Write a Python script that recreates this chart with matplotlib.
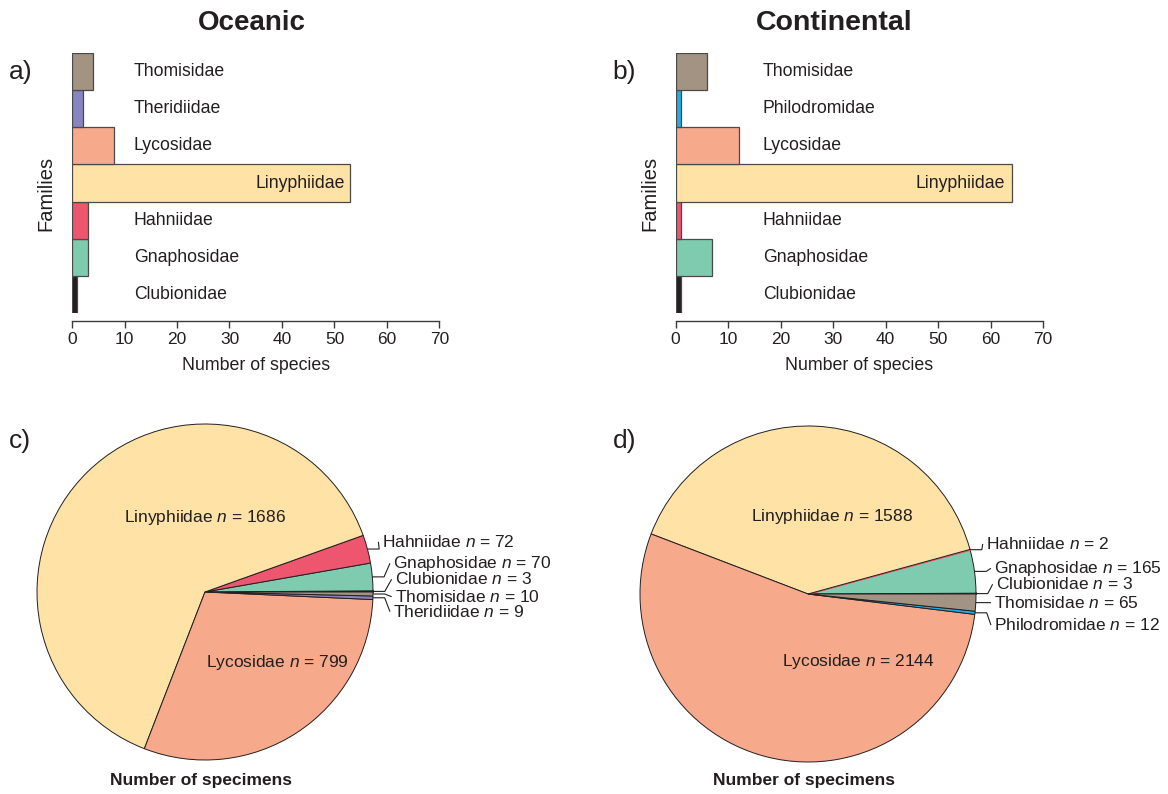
import matplotlib
matplotlib.use("Agg")
import numpy as np
import matplotlib.pyplot as plt

plt.rcParams['font.family'] = ['Liberation Sans', 'DejaVu Sans']
plt.rcParams['mathtext.fontset'] = 'custom'
plt.rcParams['mathtext.rm'] = 'Liberation Sans'
plt.rcParams['mathtext.it'] = 'Liberation Sans:italic'
plt.rcParams['text.color'] = '#231F20'

W, H = 1168, 794

# ---- data -------------------------------------------------------------
oceanic_families = ["Clubionidae", "Gnaphosidae", "Hahniidae", "Linyphiidae",
                    "Lycosidae", "Theridiidae", "Thomisidae"]
oceanic_species = [1, 3, 3, 53, 8, 2, 4]
oceanic_specimens = [3, 70, 72, 1686, 799, 9, 10]

continental_families = ["Clubionidae", "Gnaphosidae", "Hahniidae", "Linyphiidae",
                        "Lycosidae", "Philodromidae", "Thomisidae"]
continental_species = [1, 7, 1, 64, 12, 1, 6]
continental_specimens = [3, 165, 2, 1588, 2144, 12, 65]

species_ticks = [0, 10, 20, 30, 40, 50, 60, 70]

family_colors = {
    "Clubionidae": "#231F20",
    "Gnaphosidae": "#7ECBAF",
    "Hahniidae": "#EE5670",
    "Linyphiidae": "#FEE2A6",
    "Lycosidae": "#F7A98C",
    "Theridiidae": "#8884BF",
    "Philodromidae": "#27AAE1",
    "Thomisidae": "#A39382",
}

INK = '#231F20'


def px(x, y):
    """Pixel position -> figure fraction."""
    return x / W, 1 - y / H


def box(left, top, right, bottom):
    return [left / W, 1 - bottom / H, (right - left) / W, (bottom - top) / H]


fig = plt.figure(figsize=(W / 100, H / 100), dpi=100)


# ---- bar panels ------------------------------------------------------
def species_bars(rect, families, values, label_x, big_label_x, ylabel_x):
    ax = fig.add_axes(rect)
    ypos = np.arange(len(families))
    ax.barh(ypos, values, height=1.0, left=0,
            color=[family_colors[f] for f in families],
            edgecolor='#4A4A4A', linewidth=0.9)
    ax.set_xlim(0, 70)
    ax.set_ylim(-0.5, len(families) - 0.5)
    for sp in ('top', 'right', 'left'):
        ax.spines[sp].set_visible(False)
    ax.spines['bottom'].set_position(('outward', 6))
    ax.spines['bottom'].set_color('#3A3A3A')
    ax.spines['bottom'].set_linewidth(1.0)
    ax.set_yticks([])
    ax.set_xticks(species_ticks)
    ax.tick_params(axis='x', direction='out', length=5, width=1.0,
                   color='#3A3A3A', labelsize=12.5, pad=3, labelcolor=INK)
    ax.set_xlabel("Number of species", fontsize=12.8, labelpad=7, color=INK)
    big = int(np.argmax(values))
    for i, (fam, v) in enumerate(zip(families, values)):
        if i == big:
            ax.text(big_label_x, i, fam, ha='right', va='center', fontsize=12.7)
        else:
            ax.text(label_x, i, fam, ha='left', va='center', fontsize=12.7)
    fig.text(*px(ylabel_x, 193), "Families", rotation=90, ha='center',
             va='center', fontsize=14.5)
    return ax


species_bars(box(72, 53, 439.5, 313), oceanic_families, oceanic_species,
             11.8, 52.0, 46)
species_bars(box(675.5, 53, 1043, 313), continental_families, continental_species,
             16.6, 62.8, 650)


# ---- pie panels ------------------------------------------------------
def specimen_pie(cx, cy, r, families, values, inner_pos, outer_pos):
    ax = fig.add_axes(box(cx - r, cy - r, cx + r, cy + r))
    cols = [family_colors[f] for f in families]
    wedges, _ = ax.pie(values, colors=cols, startangle=0, counterclock=True,
                       wedgeprops=dict(edgecolor=INK, linewidth=0.7))
    total = float(sum(values))
    for w, v, c in zip(wedges, values, cols):
        if v / total * 360 < 0.5:
            w.set_edgecolor(c)
            w.set_linewidth(1.3)
    ax.set_xlim(-1, 1)
    ax.set_ylim(-1, 1)
    ax.set_aspect('equal')

    for fam, v, w in zip(families, values, wedges):
        label = f"{fam} $n$ = {v}"
        if fam in inner_pos:
            x, y = inner_pos[fam]
            ax.text(x, y, label, ha='center', va='center', fontsize=12.5)
        else:
            tx, ty = outer_pos[fam]
            mid = np.deg2rad((w.theta1 + w.theta2) / 2)
            ex, ey = np.cos(mid), np.sin(mid)
            ax.plot([ex, ex + 0.07, tx - 0.02], [ey, ey, ty],
                    color=INK, lw=0.8, clip_on=False, solid_capstyle='butt')
            ax.text(tx, ty, label, ha='left', va='center', fontsize=12.5,
                    clip_on=False)
    fig.text(*px(cx - 4, 781), "Number of specimens", ha='center',
             va='center', fontsize=12.5, fontweight='bold')
    return ax


specimen_pie(205, 592, 168, oceanic_families, oceanic_specimens,
             inner_pos={"Linyphiidae": (0.0, 0.446),
                        "Lycosidae": (0.43, -0.417)},
             outer_pos={"Hahniidae": (1.052, 0.299),
                        "Gnaphosidae": (1.121, 0.171),
                        "Clubionidae": (1.131, 0.076),
                        "Thomisidae": (1.131, -0.028),
                        "Theridiidae": (1.121, -0.117)})

specimen_pie(808, 594, 168, continental_families, continental_specimens,
             inner_pos={"Linyphiidae": (0.143, 0.464),
                        "Lycosidae": (0.298, -0.403)},
             outer_pos={"Hahniidae": (1.06, 0.298),
                        "Gnaphosidae": (1.109, 0.153),
                        "Clubionidae": (1.119, 0.058),
                        "Thomisidae": (1.109, -0.052),
                        "Philodromidae": (1.109, -0.185)})

# ---- titles and panel letters -----------------------------------------
fig.text(*px(252, 23), "Oceanic", ha='center', va='center', fontsize=20,
         fontweight='bold')
fig.text(*px(834, 23), "Continental", ha='center', va='center', fontsize=20.5,
         fontweight='bold')
for letter, (x, y) in {"a)": (9, 72), "b)": (612, 72),
                       "c)": (9, 441), "d)": (613, 441)}.items():
    fig.text(*px(x, y), letter, ha='left', va='center', fontsize=19)

fig.savefig("out.png", dpi=100, facecolor='white')
